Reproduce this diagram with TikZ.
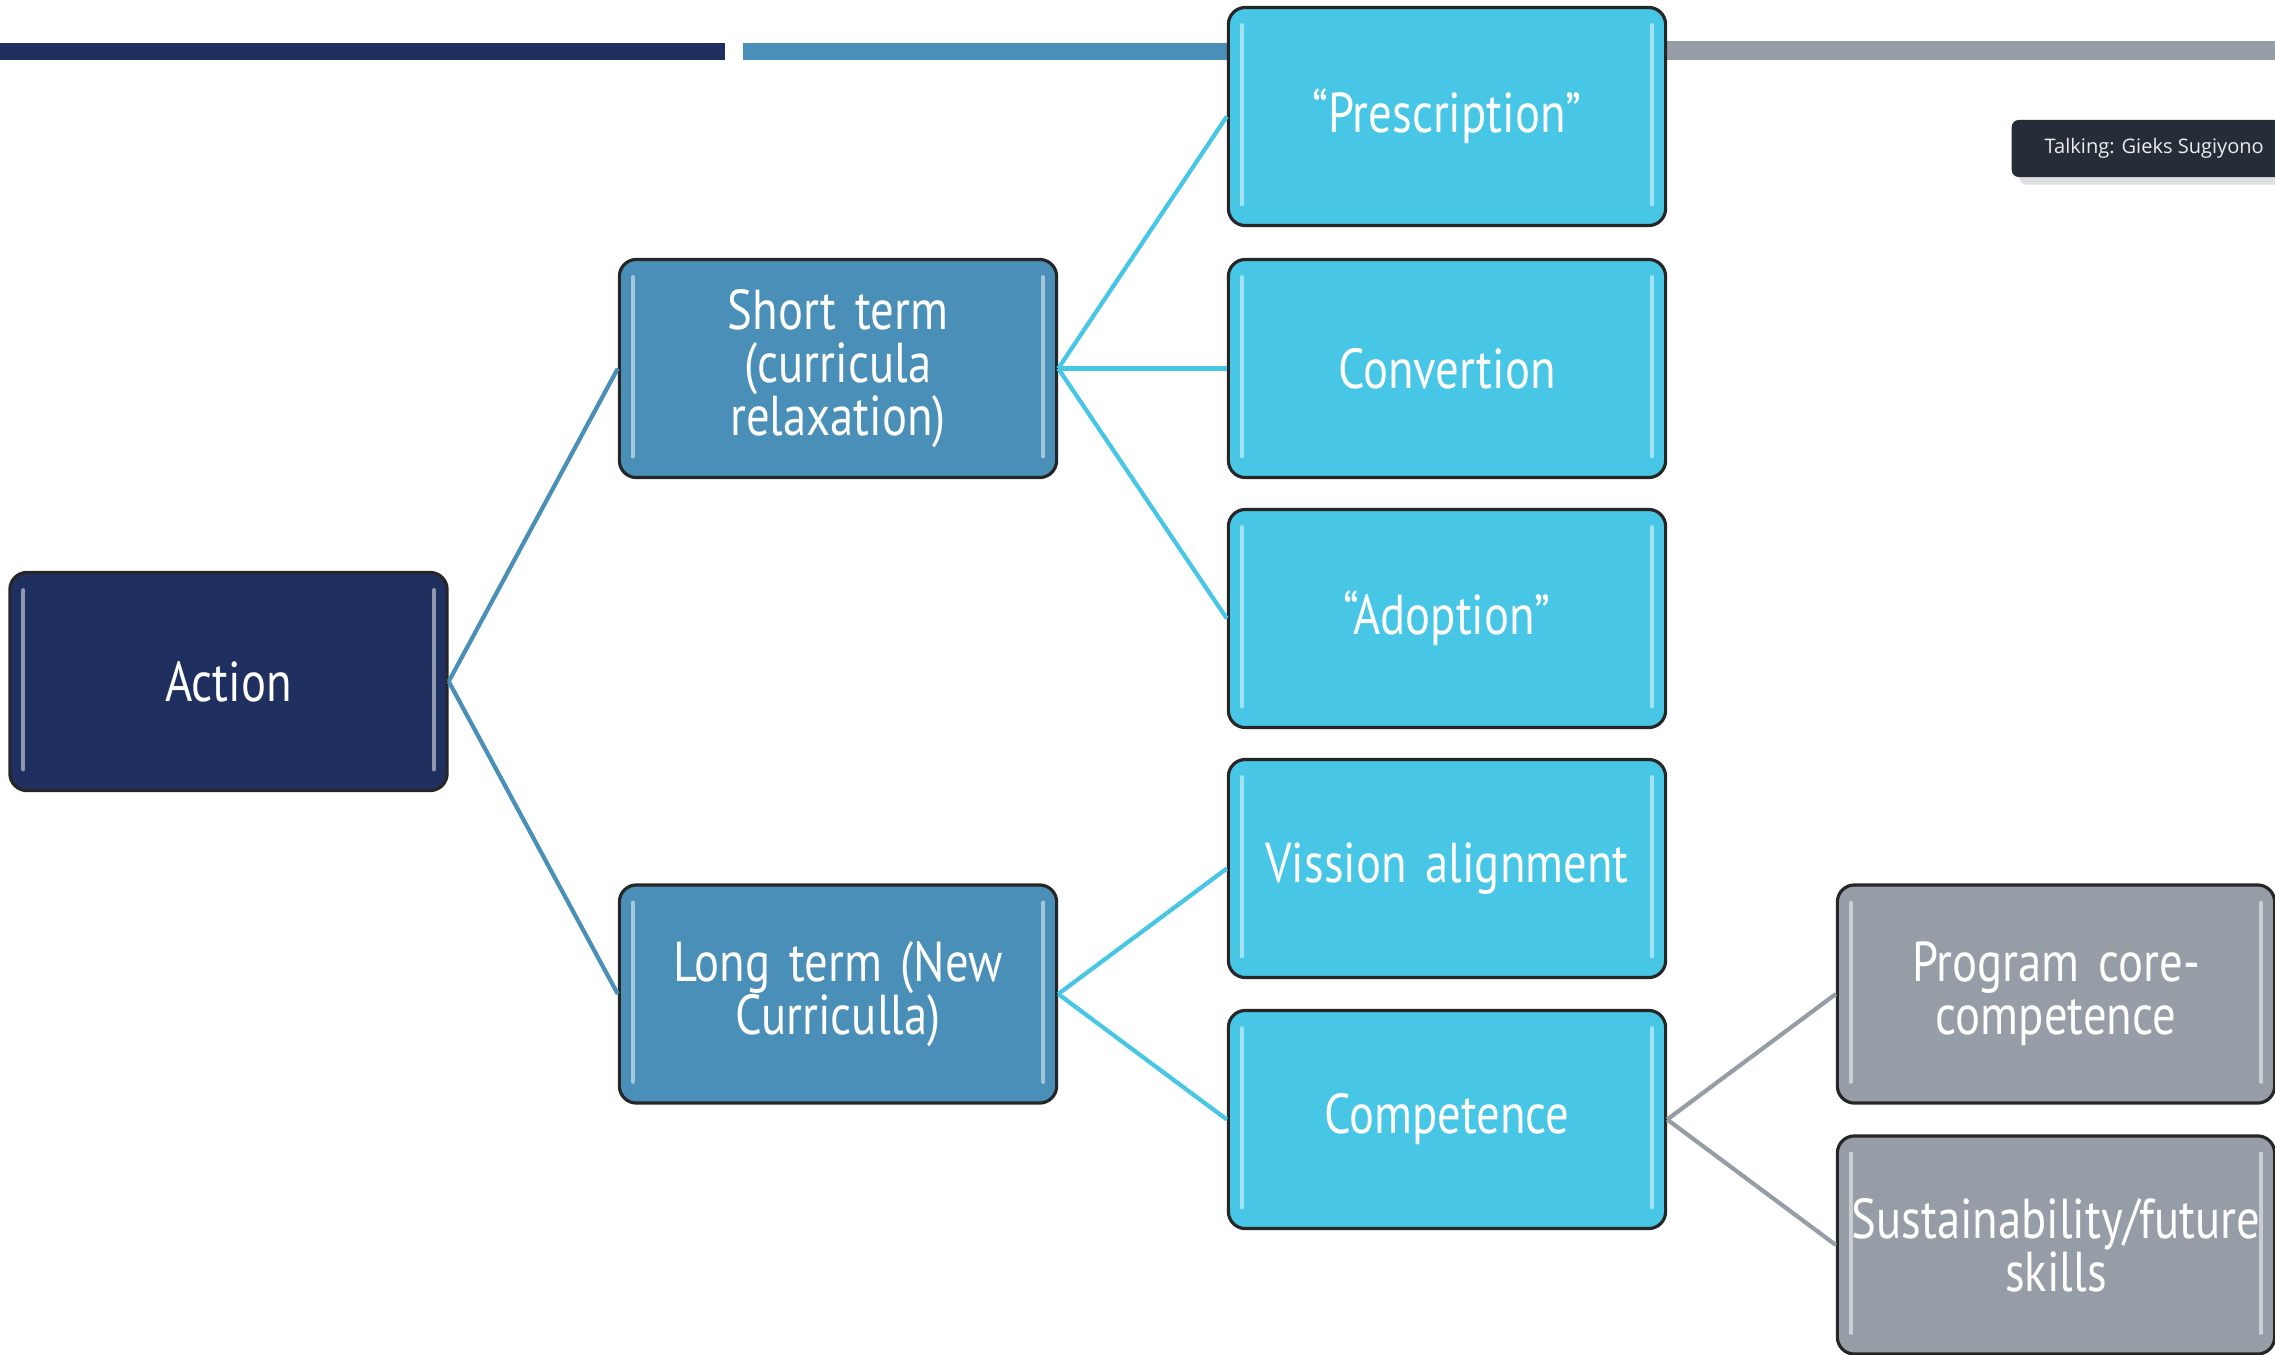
\documentclass[tikz,border=0pt]{standalone}
\usepackage{fontspec}
\usetikzlibrary{shadows}
\newfontfamily\boxfont{PT Sans}[FakeStretch=0.83, Ligatures=TeX]
\newfontfamily\uifont{Open Sans}
\definecolor{navy}{HTML}{1F2F5F}
\definecolor{midblue}{HTML}{4A8FB8}
\definecolor{cyanbox}{HTML}{47C6E6}
\definecolor{grayb}{HTML}{979DA6}
\definecolor{tagbg}{HTML}{252D38}
\tikzset{
  box/.style={draw=black!85, line width=0.9pt, rounded corners=0.17cm,
    minimum width=4.37cm, minimum height=2.18cm, inner sep=0pt,
    text width=4.3cm, align=center, text=white,
    font=\boxfont\fontsize{16}{15}\selectfont,
    path picture={
      \draw[white, opacity=0.5, line width=1.1pt, line cap=round]
        ([xshift=3.8pt,yshift=-5pt]path picture bounding box.north west) --
        ([xshift=3.8pt,yshift=6pt]path picture bounding box.south west);
      \draw[white, opacity=0.5, line width=1.1pt, line cap=round]
        ([xshift=-3.8pt,yshift=-5pt]path picture bounding box.north east) --
        ([xshift=-3.8pt,yshift=6pt]path picture bounding box.south east);
    }},
  navybox/.style={box, fill=navy},
  bluebox/.style={box, fill=midblue},
  cyanb/.style={box, fill=cyanbox},
  graybox/.style={box, fill=grayb},
  link/.style={line width=1.2pt},
}
\begin{document}
\begin{tikzpicture}[x=0.01cm, y=-0.01cm]
\useasboundingbox (0,0) rectangle (2275,1354);
\clip (0,0) rectangle (2275,1354);
\fill[white] (0,0) rectangle (2275,1354);
% top bars
\fill[navy] (0,43) rectangle (725,60);
\fill[midblue] (743,43) rectangle (1240,60);
\fill[grayb] (1650,41) rectangle (2275,60);
% talking tag
\node[fill=tagbg, rounded corners=2pt, minimum height=0.57cm,
  anchor=west, inner ysep=0pt, inner xsep=0.33cm, text=white!85!gray,
  font=\uifont\fontsize{5.7}{7}\selectfont,
  drop shadow={opacity=0.25}] (tag) at (2011,148.5) {Talking: Gieks Sugiyono};
% boxes
\node[navybox] (action) at (228.5,681.5) {Action};
\node[bluebox] (short) at (838,368.5) {Short term\\(curricula\\relaxation)};
\node[bluebox] (long) at (838,994) {Long term (New\\Curriculla)};
\node[cyanb] (presc) at (1447,116.5) {“Prescription”};
\node[cyanb] (conv) at (1447,368.5) {Convertion};
\node[cyanb] (adopt) at (1447,618.5) {“Adoption”};
\node[cyanb] (vision) at (1447,868.5) {Vission alignment};
\node[cyanb] (comp) at (1447,1119.5) {Competence};
\node[graybox] (prog) at (2056,994) {Program core-\\competence};
\node[graybox] (sust) at (2056,1245) {Sustainability/future\\skills};
% connectors
\draw[link, midblue] (action.east) -- (short.west);
\draw[link, midblue] (action.east) -- (long.west);
\draw[link, cyanbox] (short.east) -- (presc.west);
\draw[link, cyanbox] (short.east) -- (conv.west);
\draw[link, cyanbox] (short.east) -- (adopt.west);
\draw[link, cyanbox] (long.east) -- (vision.west);
\draw[link, cyanbox] (long.east) -- (comp.west);
\draw[link, grayb] (comp.east) -- (prog.west);
\draw[link, grayb] (comp.east) -- (sust.west);
\end{tikzpicture}
\end{document}
